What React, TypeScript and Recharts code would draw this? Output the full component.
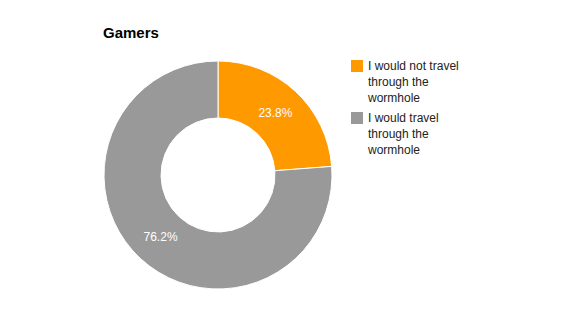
import { PieChart, Pie, Cell } from "recharts";

const categories = ["I would not travel through the wormhole", "I would travel through the wormhole"];
const shares = [23.8, 76.2];
const colors = ["#ff9900", "#999999"];

const data = categories.map((name, i) => ({ name, value: shares[i] }));

const RADIAN = Math.PI / 180;
const FONT = "Arial, 'Liberation Sans', sans-serif";

interface LabelProps {
  cx: number;
  cy: number;
  midAngle: number;
  innerRadius: number;
  outerRadius: number;
  percent: number;
}

const renderLabel = ({ cx, cy, midAngle, innerRadius, outerRadius, percent }: LabelProps) => {
  const r = (innerRadius + outerRadius) / 2 - 1;
  const x = cx + r * Math.cos(-midAngle * RADIAN);
  const y = cy + r * Math.sin(-midAngle * RADIAN);
  return (
    <text
      x={x}
      y={y}
      fill="#ffffff"
      fontSize={12}
      fontFamily={FONT}
      textAnchor="middle"
      dominantBaseline="central"
    >
      {(percent * 100).toFixed(1)}%
    </text>
  );
};

// legend drawn as plain html so it doesn't push the pie around
const ChartLegend = () => (
  <div
    style={{
      position: "absolute",
      left: 351,
      top: 58,
      fontFamily: FONT,
      fontSize: 12,
      color: "#222222",
    }}
  >
    {categories.map((name, i) => (
      <div key={name} style={{ display: "flex", alignItems: "flex-start", marginBottom: 4 }}>
        <div
          style={{
            width: 12,
            height: 12,
            background: colors[i],
            marginTop: 2,
            marginRight: 5,
            flexShrink: 0,
          }}
        />
        <div style={{ width: 100, lineHeight: "16px" }}>{name}</div>
      </div>
    ))}
  </div>
);

export default function App() {
  return (
    <div style={{ position: "absolute", left: 0, top: 0, width: 567, height: 312, background: "#fff" }}>
      <div
        style={{
          position: "absolute",
          left: 103,
          top: 24,
          fontFamily: FONT,
          fontSize: 15,
          fontWeight: "bold",
          color: "#000",
        }}
      >
        Gamers
      </div>
      <PieChart width={567} height={312} margin={{ top: 0, right: 0, bottom: 0, left: 0 }}>
        <Pie
          data={data}
          dataKey="value"
          nameKey="name"
          cx={218}
          cy={175}
          innerRadius={57}
          outerRadius={114}
          startAngle={90}
          endAngle={-270}
          stroke="#ffffff"
          strokeWidth={1}
          label={renderLabel}
          labelLine={false}
          isAnimationActive={false}
        >
          {data.map((d, i) => (
            <Cell key={d.name} fill={colors[i]} />
          ))}
        </Pie>
      </PieChart>
      <ChartLegend />
    </div>
  );
}
